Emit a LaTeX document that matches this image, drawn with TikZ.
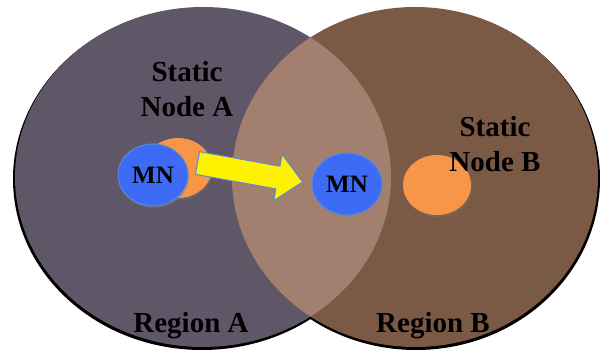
\documentclass[tikz,border=0pt]{standalone}
\usepackage{fontspec}
\setmainfont{Liberation Serif}
\usepackage{xcolor}
\usepackage{tikz}
\usetikzlibrary{shapes,shapes.geometric,calc,positioning,shadows,backgrounds}

\definecolor{regA}{HTML}{5F5668}
\definecolor{regB}{HTML}{7B5A45}
\definecolor{overlap}{HTML}{A37F6F}
\definecolor{nodeorange}{HTML}{F79646}
\definecolor{mnblue}{HTML}{3D6BF5}
\definecolor{mnedge}{HTML}{5B8BD0}

\tikzset{
  mn/.style={ellipse, draw=mnedge, line width=1pt, fill=mnblue, minimum width=70pt, minimum height=62pt, inner sep=0pt,
    font=\fontsize{25}{25}\selectfont\bfseries, drop shadow={opacity=0.35, shadow xshift=1pt, shadow yshift=-2pt}},
  staticnode/.style={ellipse, fill=nodeorange, minimum width=68pt, minimum height=60pt, inner sep=0pt,
    drop shadow={opacity=0.3, shadow xshift=1pt, shadow yshift=-2pt}},
  lbl/.style={font=\fontsize{29}{35}\selectfont\bfseries, align=center, inner sep=0pt},
  movearrow/.style={draw=mnedge, line width=1pt, fill=yellow, line join=miter}
}

\begin{document}
\begin{tikzpicture}[x=1pt, y=1pt]
\useasboundingbox (0,0) rectangle (600,351);

% the two regions, with their shadows
\fill[black] (202,172) ellipse (189 and 171);
\fill[black] (416,172) ellipse (184 and 171);
\fill[regA] (203,174) ellipse (188 and 170);
\fill[regB] (415,174) ellipse (183 and 170);
\begin{scope}
  \clip (203,174) ellipse (188 and 170);
  \fill[overlap] (415,174) ellipse (183 and 170);
\end{scope}

% static nodes and the mobile node
\node[staticnode] (statA) at (178,183) {};
\node[staticnode] (statB) at (437,166) {};
\node[mn] (mnA) at (153,176) {MN};
\node[mn] (mnB) at (347,167) {MN};

% moving arrow
\coordinate (tail) at ($(mnA.east)+(9,12)$);
\coordinate (tip) at ($(mnB.west)+(-9,2)$);
\coordinate (hb) at ($(tip)!25pt!(tail)$);
\draw[movearrow] ($(tail)!11.5pt!90:(tip)$) -- ($(hb)!11.5pt!90:(tip)$) -- ($(hb)!23.5pt!90:(tip)$) -- (tip)
  -- ($(hb)!23.5pt!-90:(tip)$) -- ($(hb)!11.5pt!-90:(tip)$) -- ($(tail)!11.5pt!-90:(tip)$) -- cycle;

% labels
\node[lbl, anchor=base] (lblA) at (187,234) {Static\\Node A};
\node[lbl, anchor=base] (lblB) at (495,179) {Static\\Node B};
\node[lbl, anchor=base] (regionA) at (191,19) {Region A};
\node[lbl, anchor=base] (regionB) at (433,19) {Region B};
\end{tikzpicture}
\end{document}
